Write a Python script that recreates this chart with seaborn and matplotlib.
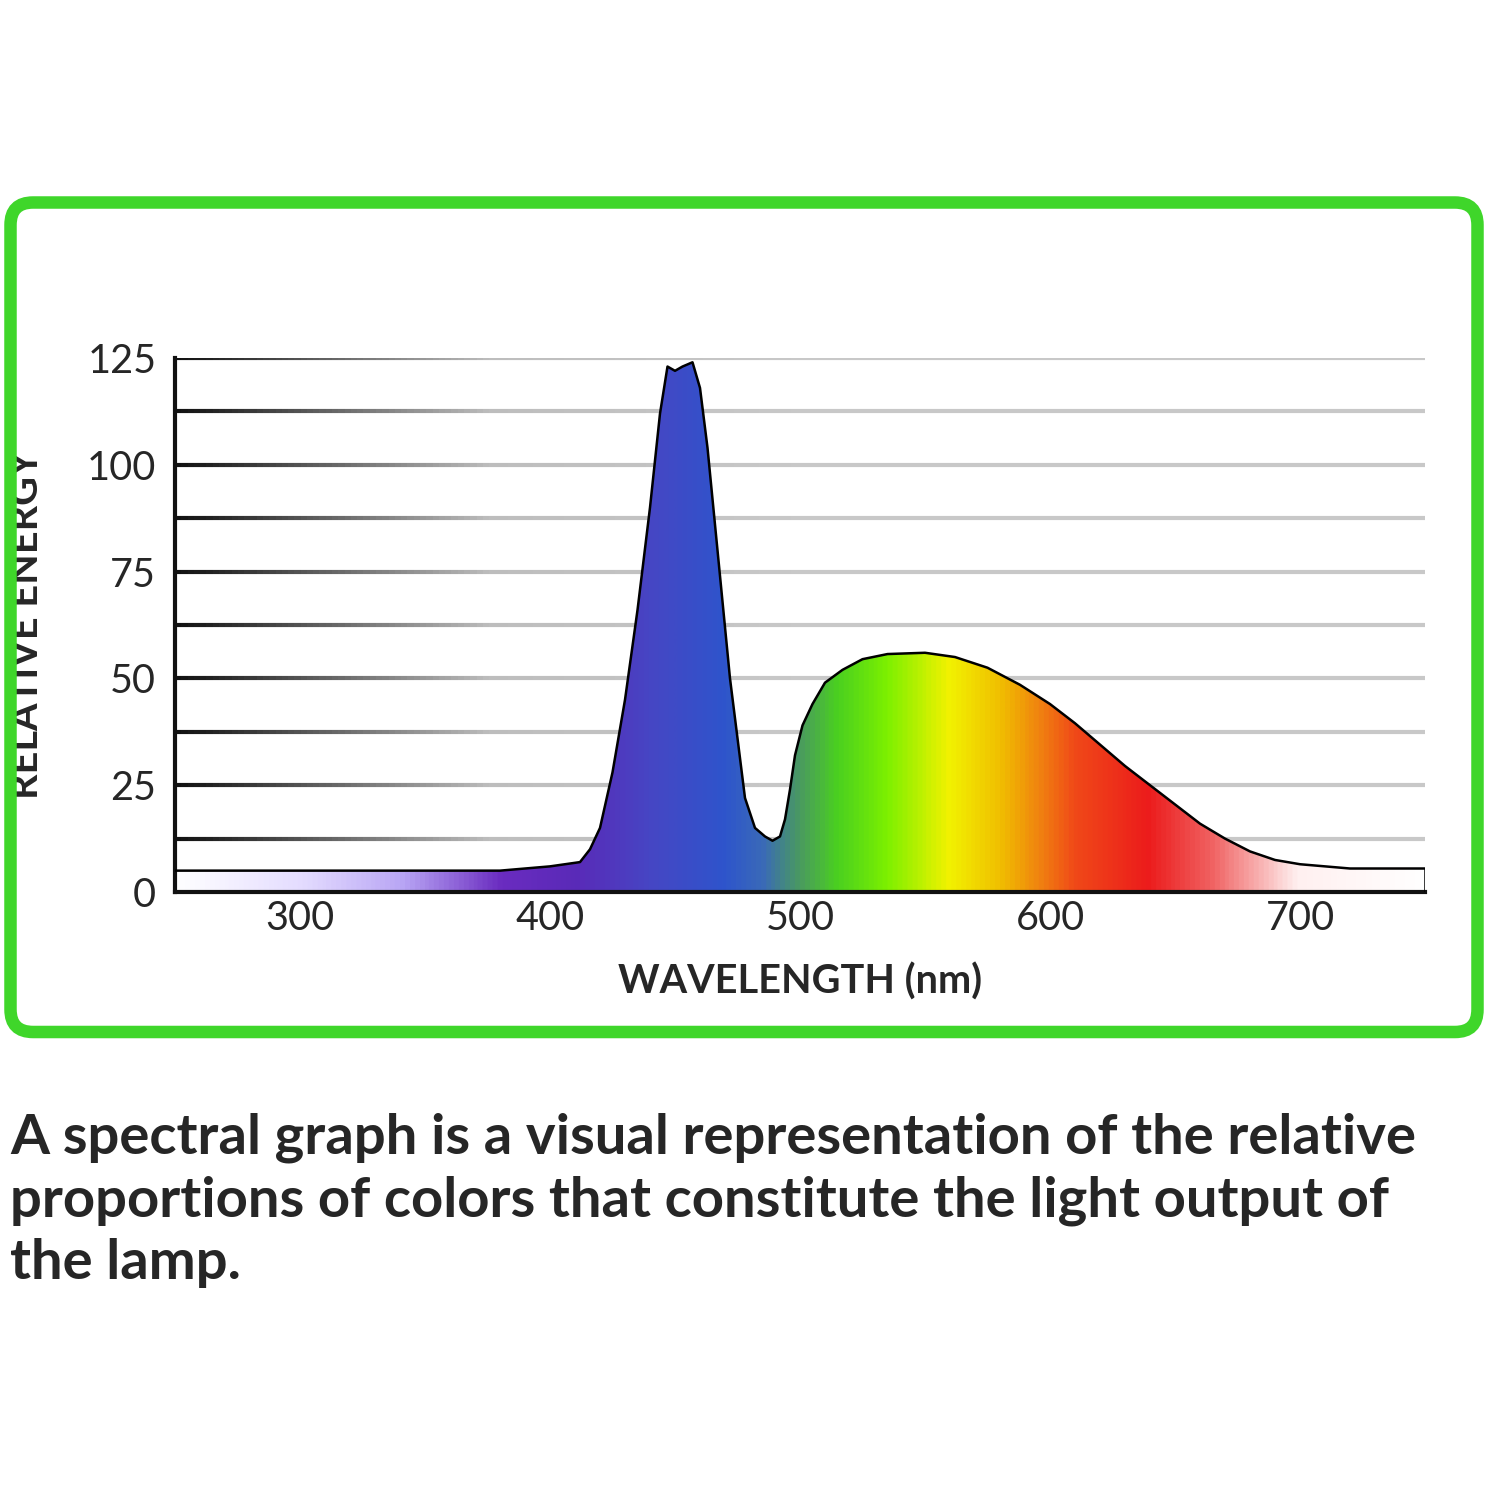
import numpy as np
import matplotlib.pyplot as plt
import seaborn as sns
from matplotlib.colors import LinearSegmentedColormap
from matplotlib.patches import FancyBboxPatch, Polygon

sns.set_style("white")
plt.rcParams['font.family'] = ['Lato', 'DejaVu Sans']

# spectrum
wavelength = [250, 300, 350, 380, 400, 412, 416, 420, 425, 430, 435, 440, 444,
              447, 450, 453, 457, 460, 463, 467, 472, 478, 482, 486, 489, 492,
              494, 496, 498, 501, 505, 510, 517, 525, 535, 550, 562, 575, 588,
              600, 610, 620, 630, 640, 650, 660, 670, 680, 690, 700, 720, 750]
energy = [5, 5, 5, 5, 6, 7, 10, 15, 28, 45, 66, 90, 112, 123, 122, 123, 124,
          118, 104, 80, 50, 22, 15, 13, 12, 13, 17, 24, 32, 39, 44, 49, 52, 54.5,
          55.7, 56, 55, 52.5, 48.5, 44, 39.5, 34.5, 29.5, 25, 20.5, 16, 12.5, 9.5,
          7.5, 6.5, 5.5, 5.5]

# colour stops along the wavelength axis
stop_nm = [250, 300, 340, 380, 410, 440, 470, 485, 500, 515, 535, 560, 580,
           597, 610, 640, 665, 700, 750]
stop_col = ['#ffffff', '#e4dcff', '#b9a6f5', '#6a2cc0', '#5a2ab8', '#4646c4',
            '#2e55cc', '#3a6ab8', '#4a9a60', '#4ad020', '#7cf000', '#f2f200',
            '#f0c000', '#f08010', '#f04a18', '#ec1c1c', '#f06060', '#fff0f0',
            '#ffffff']

fig = plt.figure(figsize=(10, 10), dpi=150)
fig.patch.set_facecolor('white')

box = FancyBboxPatch((0.007, 0.312), 0.978, 0.553, boxstyle="round,pad=0,rounding_size=0.015",
                     transform=fig.transFigure, fill=False, edgecolor='#3fd62a', linewidth=6)
fig.patches.append(box)

ax = fig.add_axes([175 / 1500, 1 - 892 / 1500, 1250 / 1500, 534 / 1500])
ax.set_xlim(250, 750)
ax.set_ylim(0, 125)

# gridlines fading from black to grey
grid_cmap = LinearSegmentedColormap.from_list('g', ['#111111', '#bdbdbd', '#c8c8c8'])
xs = np.linspace(250, 750, 200)
for yv in np.arange(12.5, 126, 12.5):
    for i in range(len(xs) - 1):
        ax.plot(xs[i:i + 2], [yv, yv], color=grid_cmap(min(1.0, (xs[i] - 250) / 250.0)),
                lw=2, solid_capstyle='butt', zorder=1)

cmap = LinearSegmentedColormap.from_list(
    'spec', [((n - 250) / 500, c) for n, c in zip(stop_nm, stop_col)])
grad = np.linspace(0, 1, 1000).reshape(1, -1)
im = ax.imshow(grad, cmap=cmap, aspect='auto', extent=[250, 750, 0, 125], zorder=2)
verts = list(zip(wavelength, energy)) + [(750, 0), (250, 0)]
clip = Polygon(verts, closed=True, transform=ax.transData)
im.set_clip_path(clip)
sns.lineplot(x=wavelength, y=energy, ax=ax, color='black', lw=1.2, zorder=3, sort=False)
ax.plot([750, 750], [0, energy[-1]], color='black', lw=1.2, zorder=3)

for s in ['top', 'right']:
    ax.spines[s].set_visible(False)
for s in ['left', 'bottom']:
    ax.spines[s].set_linewidth(2)
    ax.spines[s].set_color('#111111')

ax.set_xticks([300, 400, 500, 600, 700])
ax.set_xticks(np.arange(300, 701, 50), minor=True)
ax.set_yticks([0, 25, 50, 75, 100, 125])
ax.tick_params(axis='x', which='both', direction='in', length=8, width=2, labelsize=19, pad=4)
ax.tick_params(axis='y', direction='out', length=5, width=2, labelsize=19, pad=4)
ax.set_xlabel('WAVELENGTH (nm)', fontsize=19, fontweight='bold', labelpad=12)
ax.set_ylabel('RELATIVE ENERGY', fontsize=19, fontweight='bold', labelpad=20)

fig.text(0.007, 0.2, "A spectral graph is a visual representation of the relative\n"
         "proportions of colors that constitute the light output of\nthe lamp.",
         fontsize=27, fontweight='bold', ha='left', va='center', linespacing=1.3)

fig.savefig('out.png', dpi=150, facecolor='white')
